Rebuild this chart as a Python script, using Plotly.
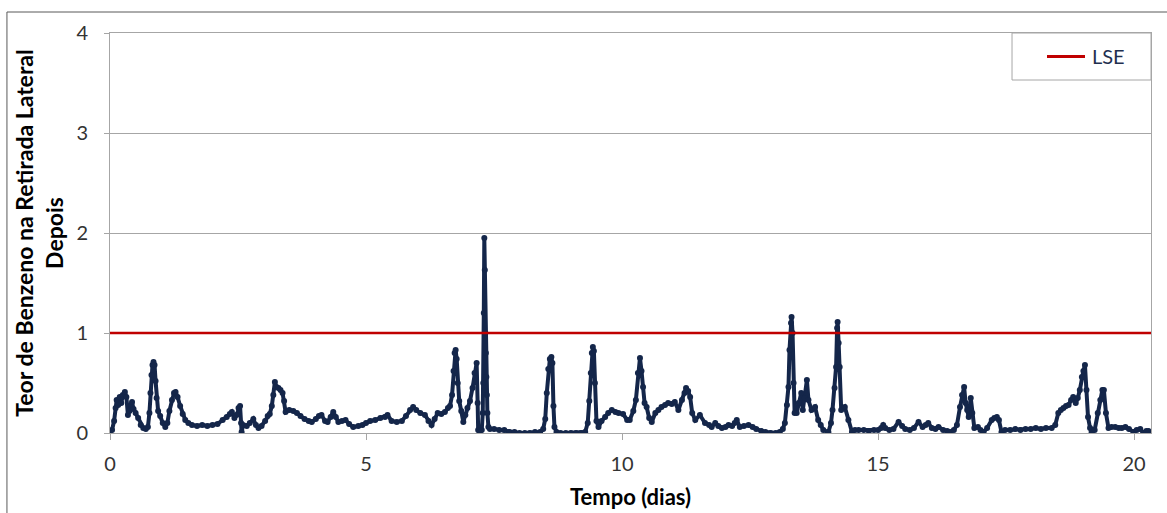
import plotly.graph_objects as go

# Time (days) and benzene content
tempo_0_5 = [0.00, 0.04, 0.08, 0.11, 0.13, 0.16, 0.19, 0.22, 0.25, 0.29, 0.32, 0.35, 0.38, 0.41, 0.43, 0.46,
             0.50, 0.55, 0.60, 0.65, 0.70, 0.74, 0.77, 0.79, 0.81, 0.83, 0.85, 0.87, 0.89, 0.91, 0.94, 0.98,
             1.03, 1.08, 1.12, 1.16, 1.21, 1.25, 1.28, 1.32, 1.37, 1.42, 1.47, 1.53, 1.60, 1.70, 1.80, 1.90,
             2.00, 2.10, 2.20, 2.28, 2.34, 2.38, 2.43, 2.47, 2.51, 2.54, 2.56, 2.57, 2.60, 2.67, 2.73, 2.80,
             2.85, 2.90, 2.96, 3.03, 3.08, 3.12, 3.16, 3.19, 3.22, 3.25, 3.29, 3.33, 3.37, 3.40, 3.43, 3.50,
             3.58, 3.65, 3.72, 3.80, 3.88, 3.94, 4.02, 4.08, 4.13, 4.20, 4.25, 4.31, 4.36, 4.41, 4.46, 4.53,
             4.60, 4.67, 4.75, 4.85, 4.93, 5.00]
teor_0_5 = [0.02, 0.03, 0.12, 0.25, 0.33, 0.28, 0.36, 0.30, 0.38, 0.41, 0.36, 0.18, 0.22, 0.28, 0.31, 0.24,
            0.20, 0.15, 0.08, 0.05, 0.04, 0.06, 0.20, 0.40, 0.58, 0.68, 0.71, 0.68, 0.52, 0.35, 0.22, 0.17,
            0.10, 0.06, 0.10, 0.22, 0.33, 0.40, 0.41, 0.36, 0.27, 0.19, 0.13, 0.10, 0.08, 0.07, 0.08, 0.07,
            0.08, 0.09, 0.13, 0.16, 0.19, 0.21, 0.15, 0.18, 0.25, 0.27, 0.10, 0.01, 0.08, 0.07, 0.10, 0.14,
            0.08, 0.05, 0.07, 0.12, 0.17, 0.19, 0.27, 0.38, 0.51, 0.46, 0.45, 0.43, 0.40, 0.32, 0.21, 0.23,
            0.22, 0.20, 0.17, 0.14, 0.12, 0.11, 0.14, 0.17, 0.18, 0.12, 0.11, 0.16, 0.21, 0.16, 0.11, 0.12,
            0.13, 0.09, 0.06, 0.07, 0.08, 0.10]

tempo_5_10 = [5.08, 5.18, 5.28, 5.37, 5.42, 5.50, 5.60, 5.70, 5.78, 5.86, 5.92, 5.98, 6.06, 6.15, 6.22, 6.28,
              6.34, 6.40, 6.47, 6.54, 6.60, 6.64, 6.68, 6.71, 6.73, 6.75, 6.77, 6.79, 6.82, 6.86, 6.90, 6.94,
              6.98, 7.03, 7.08, 7.12, 7.16, 7.18, 7.19, 7.22, 7.26, 7.28, 7.29, 7.30, 7.31, 7.32, 7.33, 7.34,
              7.35, 7.36, 7.37, 7.39, 7.42, 7.50, 7.60, 7.70, 7.80, 7.90, 8.00, 8.10, 8.20, 8.30, 8.40, 8.46,
              8.50, 8.53, 8.56, 8.59, 8.62, 8.64, 8.66, 8.68, 8.72, 8.80, 8.90, 9.00, 9.10, 9.20, 9.28, 9.33,
              9.36, 9.39, 9.41, 9.43, 9.45, 9.47, 9.50, 9.54, 9.60, 9.67, 9.73, 9.80, 9.87, 9.93, 10.02, 10.10]
teor_5_10 = [0.12, 0.13, 0.15, 0.16, 0.18, 0.12, 0.11, 0.12, 0.17, 0.23, 0.26, 0.23, 0.20, 0.18, 0.12, 0.08,
             0.14, 0.20, 0.19, 0.21, 0.25, 0.27, 0.38, 0.62, 0.80, 0.83, 0.74, 0.50, 0.32, 0.22, 0.11, 0.18,
             0.25, 0.32, 0.45, 0.60, 0.70, 0.30, 0.03, 0.01, 0.03, 0.20, 0.50, 1.20, 1.95, 1.63, 1.00, 0.80,
             0.56, 0.38, 0.20, 0.06, 0.04, 0.04, 0.03, 0.03, 0.01, 0.01, 0.00, 0.00, 0.00, 0.01, 0.01, 0.04,
             0.14, 0.40, 0.64, 0.74, 0.76, 0.70, 0.27, 0.06, 0.01, 0.00, 0.00, 0.00, 0.00, 0.00, 0.01, 0.10,
             0.32, 0.60, 0.80, 0.86, 0.82, 0.50, 0.12, 0.06, 0.12, 0.16, 0.20, 0.23, 0.21, 0.20, 0.19, 0.13]

tempo_10_15 = [10.15, 10.22, 10.27, 10.31, 10.35, 10.38, 10.41, 10.44, 10.48, 10.53, 10.58, 10.65, 10.71,
               10.77, 10.84, 10.90, 10.97, 11.03, 11.10, 11.17, 11.22, 11.25, 11.29, 11.33, 11.37, 11.43,
               11.52, 11.62, 11.70, 11.75, 11.82, 11.88, 11.95, 12.02, 12.08, 12.15, 12.20, 12.24, 12.30,
               12.38, 12.47, 12.55, 12.62, 12.72, 12.80, 12.90, 13.00, 13.08, 13.14, 13.18, 13.22, 13.25,
               13.27, 13.30, 13.31, 13.33, 13.35, 13.37, 13.41, 13.45, 13.50, 13.53, 13.57, 13.61, 13.64,
               13.70, 13.77, 13.83, 13.88, 13.93, 14.03, 14.08, 14.11, 14.15, 14.18, 14.20, 14.21, 14.23,
               14.25, 14.28, 14.35, 14.42, 14.49, 14.55, 14.62, 14.72, 14.82, 14.92, 15.00, 15.06, 15.10, 15.14]
teor_10_15 = [0.13, 0.22, 0.33, 0.60, 0.75, 0.62, 0.46, 0.30, 0.26, 0.15, 0.11, 0.20, 0.23,
              0.26, 0.28, 0.30, 0.29, 0.31, 0.23, 0.33, 0.40, 0.45, 0.42, 0.36, 0.20, 0.13,
              0.18, 0.10, 0.08, 0.06, 0.10, 0.07, 0.05, 0.06, 0.08, 0.07, 0.10, 0.13, 0.06,
              0.07, 0.08, 0.06, 0.04, 0.02, 0.01, 0.00, 0.00, 0.01, 0.04, 0.10, 0.28, 0.46,
              0.83, 1.10, 1.16, 1.00, 0.50, 0.20, 0.20, 0.30, 0.40, 0.23, 0.35, 0.53, 0.33,
              0.23, 0.26, 0.13, 0.08, 0.03, 0.01, 0.10, 0.23, 0.45, 0.66, 1.05, 1.11, 0.90,
              0.66, 0.23, 0.26, 0.13, 0.01, 0.03, 0.03, 0.03, 0.02, 0.03, 0.03, 0.05, 0.08, 0.05]

tempo_15_20 = [15.22, 15.30, 15.40, 15.47, 15.53, 15.62, 15.70, 15.79, 15.87, 15.93, 15.98, 16.05, 16.12,
               16.18, 16.27, 16.35, 16.40, 16.48, 16.54, 16.60, 16.64, 16.68, 16.71, 16.74, 16.77, 16.81,
               16.84, 16.88, 16.95, 17.00, 17.06, 17.13, 17.22, 17.27, 17.32, 17.36, 17.41, 17.48, 17.58,
               17.68, 17.78, 17.88, 17.98, 18.08, 18.18, 18.28, 18.39, 18.46, 18.52, 18.57, 18.62, 18.67,
               18.72, 18.77, 18.81, 18.86, 18.90, 18.94, 18.98, 19.01, 19.04, 19.07, 19.10, 19.14, 19.17,
               19.23, 19.29, 19.34, 19.38, 19.41, 19.45, 19.50, 19.56, 19.63, 19.70, 19.76, 19.83, 19.90,
               19.99, 20.05, 20.12, 20.18, 20.24, 20.28]
teor_15_20 = [0.03, 0.04, 0.11, 0.07, 0.04, 0.03, 0.05, 0.11, 0.06, 0.08, 0.10, 0.05, 0.04,
              0.06, 0.03, 0.02, 0.01, 0.03, 0.08, 0.26, 0.38, 0.46, 0.30, 0.23, 0.16, 0.35,
              0.20, 0.05, 0.06, 0.03, 0.01, 0.05, 0.13, 0.15, 0.16, 0.13, 0.01, 0.03, 0.03,
              0.04, 0.03, 0.04, 0.04, 0.05, 0.04, 0.05, 0.05, 0.08, 0.20, 0.23, 0.25, 0.27,
              0.28, 0.33, 0.36, 0.30, 0.35, 0.43, 0.56, 0.62, 0.68, 0.43, 0.16, 0.05, 0.01,
              0.03, 0.20, 0.33, 0.43, 0.43, 0.20, 0.05, 0.06, 0.06, 0.05, 0.05, 0.06, 0.04,
              0.01, 0.03, 0.04, 0.00, 0.02, 0.02]

lse_tempo = [0, 20.33]
lse_valor = [1, 1]
lse_nome = "LSE"

x_ticks = [0, 5, 10, 15, 20]
y_ticks = [0, 1, 2, 3, 4]

tempo = tempo_0_5 + tempo_5_10 + tempo_10_15 + tempo_15_20
teor = teor_0_5 + teor_5_10 + teor_10_15 + teor_15_20

FONT = "Lato"
NAVY = "#14264A"
RED = "#C00000"
GRID = "#A6A6A6"

fig = go.Figure()
fig.add_trace(go.Scatter(
    x=tempo, y=teor, mode="lines+markers", showlegend=False,
    line=dict(color=NAVY, width=4),
    marker=dict(color=NAVY, size=6, symbol="circle"),
    name="Teor",
))
fig.add_trace(go.Scatter(
    x=lse_tempo, y=lse_valor, mode="lines", name=lse_nome, showlegend=False,
    line=dict(color=RED, width=2.5),
))

fig.update_layout(
    width=1167, height=513,
    margin=dict(l=110, r=16, t=33, b=80, autoexpand=False),
    paper_bgcolor="white", plot_bgcolor="white",
    font=dict(family=FONT, size=20, color="#333333"),
    showlegend=False,
    xaxis=dict(
        range=[0, 20.33], tickvals=x_ticks, ticktext=[str(v) for v in x_ticks],
        showgrid=False, zeroline=False,
        showline=True, linecolor=GRID, linewidth=1, mirror=True,
        ticks="outside", ticklen=6, tickcolor=GRID,
        ticklabelstandoff=7,
        tickfont=dict(family=FONT, size=20, color="#333333"),
        title=dict(text="<b>Tempo (dias)</b>", font=dict(family=FONT, size=22, color="black"), standoff=15),
    ),
    yaxis=dict(
        range=[0, 4], tickvals=y_ticks, ticktext=[str(v) for v in y_ticks],
        showgrid=True, gridcolor=GRID, gridwidth=1, zeroline=False,
        showline=True, linecolor=GRID, linewidth=1, mirror=True,
        ticks="outside", ticklen=5, tickcolor=GRID,
        ticklabelstandoff=12,
        tickfont=dict(family=FONT, size=20, color="#333333"),
        title=dict(text="<b>Teor de Benzeno na Retirada Lateral<br>Depois</b>",
                   font=dict(family=FONT, size=23, color="black"), standoff=6),
    ),
)

# outer chart frame (left and top edges visible in the reference)
fig.add_shape(type="line", xref="paper", yref="paper", x0=-0.099, x1=-0.099, y0=-0.3, y1=1.0525,
              line=dict(color="#595959", width=1))
fig.add_shape(type="line", xref="paper", yref="paper", x0=-0.099, x1=1.1, y0=1.0525, y1=1.0525,
              line=dict(color="#595959", width=1))

# legend box (drawn to match the reference placement)
fig.add_shape(type="rect", xref="paper", yref="paper", x0=0.8665, x1=1.0, y0=0.8825, y1=1.0,
              fillcolor="white", line=dict(color=GRID, width=1), layer="above")
fig.add_shape(type="line", xref="paper", yref="paper", x0=0.9001, x1=0.9366, y0=0.9413, y1=0.9413,
              line=dict(color=RED, width=3), layer="above")
fig.add_annotation(xref="paper", yref="paper", x=0.9414, y=0.9413, xanchor="left", yanchor="middle",
                   text=lse_nome, showarrow=False, font=dict(family=FONT, size=20, color="#1F2F4F"))

fig.write_html("out.html", config={"displayModeBar": False},
               post_script="document.body.style.margin='0';")
